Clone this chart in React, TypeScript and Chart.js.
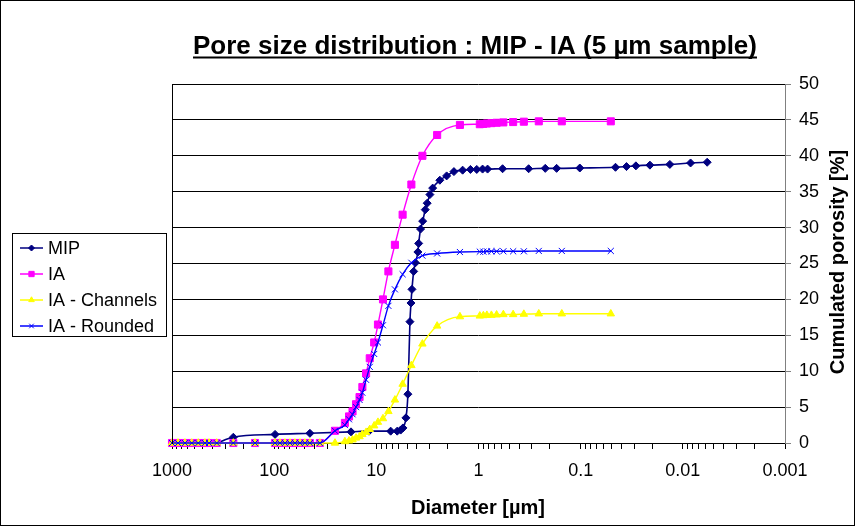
import React, { useEffect, useRef } from 'react';
import { Chart, registerables } from 'chart.js';
import { drawPoint } from 'chart.js/helpers';

Chart.register(...registerables);

const FONT = '"Liberation Sans", Arial, Helvetica, sans-serif';

// ---------- data ----------
const mipDiameter = [365, 251, 98, 44.7, 17.7, 11.8, 7.24, 6.25, 5.78, 5.49, 5.13, 4.91, 4.69, 4.58, 4.48, 4.31, 4.14, 3.92, 3.85, 3.69, 3.52, 3.32, 3.18, 2.99, 2.81, 2.39, 2.05, 1.74, 1.43, 1.2, 1.04, 0.912, 0.815, 0.581, 0.323, 0.222, 0.172, 0.102, 0.0456, 0.0356, 0.0288, 0.021, 0.0134, 0.0084, 0.00578];
const mipPorosity = [0, 0.8, 1.2, 1.35, 1.55, 1.65, 1.65, 1.65, 1.8, 2.1, 3.5, 6.8, 16.9, 19.5, 21.4, 23.9, 25.1, 26.6, 27.8, 29.8, 30.9, 32.5, 33.4, 34.6, 35.5, 36.6, 37.2, 37.8, 38.0, 38.1, 38.1, 38.15, 38.15, 38.2, 38.2, 38.25, 38.25, 38.3, 38.4, 38.5, 38.6, 38.7, 38.8, 39.0, 39.1];

const iaDiameter = [1000, 873, 747, 641, 553, 476, 434, 365, 251, 154, 98.2, 87.8, 78.4, 70.0, 62.6, 55.9, 50.0, 44.7, 35.7, 25.4, 20.3, 18.5, 17.1, 15.8, 14.6, 13.7, 12.6, 11.6, 10.5, 9.64, 8.61, 7.62, 6.58, 5.53, 4.54, 3.54, 2.54, 1.52, 0.971, 0.896, 0.828, 0.748, 0.665, 0.571, 0.458, 0.36, 0.257, 0.153, 0.0507];
const iaPorosity = [0, 0, 0, 0, 0, 0, 0, 0, 0, 0, 0, 0, 0, 0, 0, 0, 0, 0, 0, 1.7, 2.8, 3.7, 4.4, 5.4, 6.4, 7.8, 9.7, 11.8, 14.0, 16.5, 20.0, 23.9, 27.6, 31.8, 36.0, 40.0, 42.9, 44.3, 44.4, 44.45, 44.5, 44.55, 44.6, 44.65, 44.7, 44.75, 44.8, 44.8, 44.8];
const channelsPorosity = [0, 0, 0, 0, 0, 0, 0, 0, 0, 0, 0, 0, 0, 0, 0, 0, 0, 0, 0, 0, 0.2, 0.3, 0.45, 0.7, 0.9, 1.2, 1.5, 1.9, 2.4, 2.9, 3.4, 4.4, 6.0, 8.2, 10.8, 13.8, 16.3, 17.6, 17.7, 17.75, 17.8, 17.8, 17.85, 17.9, 17.9, 17.95, 18.0, 18.0, 18.0];
const roundedPorosity = [0, 0, 0, 0, 0, 0, 0, 0, 0, 0, 0, 0, 0, 0, 0, 0, 0, 0, 0, 1.7, 2.5, 3.3, 4.0, 5.0, 6.0, 7.0, 8.8, 10.6, 12.4, 14.0, 16.4, 19.1, 21.4, 23.5, 25.1, 26.1, 26.4, 26.6, 26.65, 26.65, 26.7, 26.7, 26.7, 26.7, 26.7, 26.7, 26.75, 26.75, 26.75];

const seriesNames = ['MIP', 'IA', 'IA - Channels', 'IA - Rounded'];
const majorTickValues = [1000, 100, 10, 1, 0.1, 0.01, 0.001];
const majorTickLabels = ['1000', '100', '10', '1', '0.1', '0.01', '0.001'];
const minorMultipliers = [1, 2, 3, 4, 5, 6, 7, 8, 9];

const titleText = 'Pore size distribution : MIP - IA (5 µm sample)';
const xTitle = 'Diameter [µm]';
const yTitle = 'Cumulated porosity [%]';

// ---------- styles ----------
const styles = [
  { color: '#000080', pointStyle: 'rectRot', radius: 4, lineWidth: 1.6 },
  { color: '#FF00FF', pointStyle: 'rect', radius: 5, lineWidth: 1.4 },
  { color: '#FFFF00', pointStyle: 'triangle', radius: 4.3, lineWidth: 1.4 },
  { color: '#0000FF', pointStyle: 'crossRot', radius: 4.3, lineWidth: 1.4 },
];

const W = 855;
const H = 526;
const AREA = { left: 172, top: 84, right: 785, bottom: 443 };

function toXY(xs: number[], ys: number[]) {
  return xs.map((x, i) => ({ x, y: ys[i] }));
}

const decorPlugin = {
  id: 'decor',
  beforeDraw(chart: any) {
    const ctx = chart.ctx;
    ctx.save();
    ctx.fillStyle = '#fff';
    ctx.fillRect(0, 0, W, H);
    ctx.restore();
  },
  afterDraw(chart: any) {
    const ctx = chart.ctx;
    const ca = chart.chartArea;
    ctx.save();
    // outer border
    ctx.strokeStyle = '#000';
    ctx.lineWidth = 1;
    ctx.strokeRect(0.5, 0.5, W - 1, H - 1);
    // left border of plot area
    const lx = Math.round(ca.left) + 0.5;
    ctx.beginPath();
    ctx.moveTo(lx, Math.round(ca.top));
    ctx.lineTo(lx, Math.round(ca.bottom) + 1);
    ctx.stroke();

    // title
    ctx.fillStyle = '#000';
    ctx.font = `bold 26px ${FONT}`;
    ctx.textAlign = 'center';
    ctx.textBaseline = 'alphabetic';
    const tx = 475;
    const ty = 54;
    ctx.fillText(titleText, tx, ty);
    const tw = ctx.measureText(titleText).width;
    ctx.beginPath();
    ctx.lineWidth = 2;
    ctx.moveTo(tx - tw / 2, ty + 3.5);
    ctx.lineTo(tx + tw / 2, ty + 3.5);
    ctx.stroke();

    // x title
    ctx.font = `bold 20px ${FONT}`;
    ctx.textBaseline = 'middle';
    ctx.fillText(xTitle, 478, 508);

    // y title
    ctx.save();
    ctx.translate(838, 262);
    ctx.rotate(-Math.PI / 2);
    ctx.fillText(yTitle, 0, 0);
    ctx.restore();

    // legend
    const lb = { x: 12.5, y: 233.5, w: 154, h: 103 };
    ctx.lineWidth = 1;
    ctx.strokeStyle = '#000';
    ctx.strokeRect(lb.x, lb.y, lb.w, lb.h);
    ctx.font = `18px ${FONT}`;
    ctx.textAlign = 'left';
    ctx.textBaseline = 'middle';
    seriesNames.forEach((name, i) => {
      const y = 248 + i * 26;
      const st = styles[i];
      ctx.strokeStyle = st.color;
      ctx.fillStyle = st.color;
      ctx.lineWidth = 1.5;
      ctx.beginPath();
      ctx.moveTo(20, y);
      ctx.lineTo(43, y);
      ctx.stroke();
      ctx.lineWidth = 1;
      drawPoint(ctx, { pointStyle: st.pointStyle, rotation: 0, radius: st.radius * 0.75, borderWidth: 1 } as any, 31.5, y);
      ctx.fillStyle = '#000';
      ctx.fillText(name, 48, y + 1);
    });
    ctx.restore();
  },
};

export default function App() {
  const canvasRef = useRef<HTMLCanvasElement | null>(null);

  useEffect(() => {
    const canvas = canvasRef.current;
    if (!canvas) return;
    const seriesData = [
      toXY(mipDiameter, mipPorosity),
      toXY(iaDiameter, iaPorosity),
      toXY(iaDiameter, channelsPorosity),
      toXY(iaDiameter, roundedPorosity),
    ];
    const datasets = seriesNames.map((name, i) => ({
      label: name,
      data: seriesData[i],
      borderColor: styles[i].color,
      backgroundColor: styles[i].color,
      pointBackgroundColor: styles[i].color,
      pointBorderColor: styles[i].color,
      pointStyle: styles[i].pointStyle,
      pointRadius: styles[i].radius,
      pointBorderWidth: 1,
      borderWidth: styles[i].lineWidth,
      cubicInterpolationMode: 'monotone' as const,
      clip: false,
      order: 4 - i,
    }));

    const chart = new Chart(canvas, {
      type: 'line',
      data: { datasets },
      plugins: [decorPlugin],
      options: {
        animation: false,
        responsive: false,
        devicePixelRatio: 1,
        font: { family: FONT },
        layout: { padding: { left: AREA.left, top: AREA.top, right: 0, bottom: 0 } },
        plugins: {
          legend: { display: false },
          title: { display: false },
          tooltip: { enabled: false },
        },
        scales: {
          x: {
            type: 'logarithmic',
            reverse: true,
            min: 0.001,
            max: 1000,
            position: 'bottom',
            afterBuildTicks: (scale: any) => {
              const t: { value: number }[] = [];
              for (let e = -3; e < 3; e++) {
                for (const m of minorMultipliers) {
                  t.push({ value: parseFloat((m * Math.pow(10, e)).toPrecision(4)) });
                }
              }
              t.push({ value: 1000 });
              scale.ticks = t;
            },
            afterFit: (scale: any) => {
              scale.height = H - AREA.bottom;
            },
            ticks: {
              autoSkip: false,
              maxRotation: 0,
              minRotation: 0,
              color: '#000',
              padding: 11,
              font: { family: FONT, size: 18 },
              callback: (value: any) => {
                const v = Number(value);
                const idx = majorTickValues.findIndex((m) => Math.abs(m - v) / m < 1e-6);
                return idx >= 0 ? majorTickLabels[idx] : '';
              },
            },
            grid: {
              drawOnChartArea: false,
              drawTicks: true,
              tickLength: 6,
              color: '#000',
              tickColor: '#000',
            },
            border: { color: '#000', width: 1 },
          },
          y: {
            type: 'linear',
            position: 'right',
            min: 0,
            max: 50,
            afterFit: (scale: any) => {
              scale.width = W - AREA.right;
            },
            ticks: {
              stepSize: 5,
              color: '#000',
              padding: 8,
              font: { family: FONT, size: 18 },
            },
            grid: {
              color: '#000',
              lineWidth: 1,
              drawTicks: true,
              tickLength: 6,
              tickColor: '#808080',
            },
            border: { color: '#808080', width: 1 },
          },
        },
      },
    } as any);

    return () => chart.destroy();
  }, []);

  return (
    <div style={{ position: 'absolute', left: 0, top: 0, width: W, height: H, background: '#fff' }}>
      <canvas ref={canvasRef} width={W} height={H} style={{ display: 'block', width: W, height: H }} />
    </div>
  );
}
